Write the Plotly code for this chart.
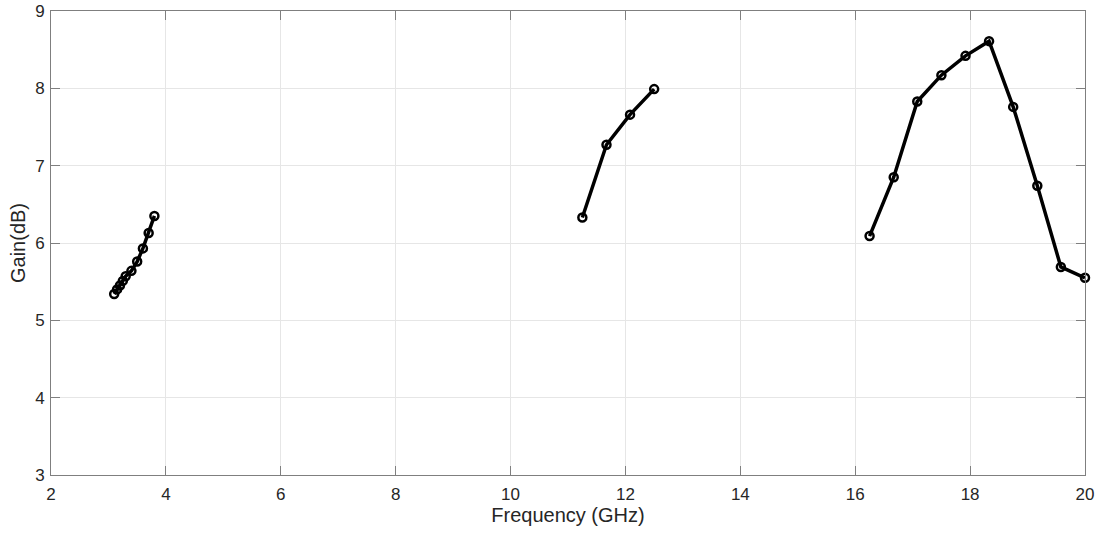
import plotly.graph_objects as go

freq1 = [3.1, 3.15, 3.2, 3.25, 3.3, 3.4, 3.5, 3.6, 3.7, 3.8]
gain1 = [5.34, 5.40, 5.45, 5.51, 5.57, 5.64, 5.76, 5.93, 6.13, 6.35]
freq2 = [11.25, 11.67, 12.08, 12.5]
gain2 = [6.33, 7.27, 7.66, 7.99]
freq3 = [16.25, 16.67, 17.08, 17.5, 17.92, 18.33, 18.75, 19.17, 19.58, 20.0]
gain3 = [6.09, 6.85, 7.83, 8.17, 8.42, 8.61, 7.76, 6.74, 5.69, 5.55]

x_ticks = [2, 4, 6, 8, 10, 12, 14, 16, 18, 20]
y_ticks = [3, 4, 5, 6, 7, 8, 9]

fig = go.Figure()
for fx, gy in [(freq1, gain1), (freq2, gain2), (freq3, gain3)]:
    fig.add_trace(go.Scatter(
        x=fx, y=gy, mode="lines+markers",
        line=dict(color="black", width=3.5),
        marker=dict(symbol="circle-open", size=8, color="black", line=dict(width=2.5, color="black")),
        showlegend=False, cliponaxis=False,
    ))

axis_common = dict(
    showgrid=True, gridcolor="#e6e6e6", gridwidth=1,
    showline=True, linecolor="#7f7f7f", linewidth=1, mirror="ticks",
    ticks="inside", ticklen=9, tickcolor="#7f7f7f",
    zeroline=False, automargin=False,
    tickfont=dict(family="Liberation Sans, Arial", size=17, color="#262626"),
    title_font=dict(family="Liberation Sans, Arial", size=20, color="#262626"),
)

fig.update_layout(
    width=1100, height=533,
    margin=dict(l=51, r=15, t=11, b=58),
    paper_bgcolor="white", plot_bgcolor="white",
    xaxis=dict(range=[2, 20], tickvals=x_ticks, ticklabelstandoff=4,
               title=dict(text="Frequency (GHz)", standoff=4), **axis_common),
    yaxis=dict(range=[3, 9], tickvals=y_ticks, ticklabelstandoff=2,
               title=dict(text="Gain(dB)", standoff=4), **axis_common),
)

fig.write_html("out.html")
